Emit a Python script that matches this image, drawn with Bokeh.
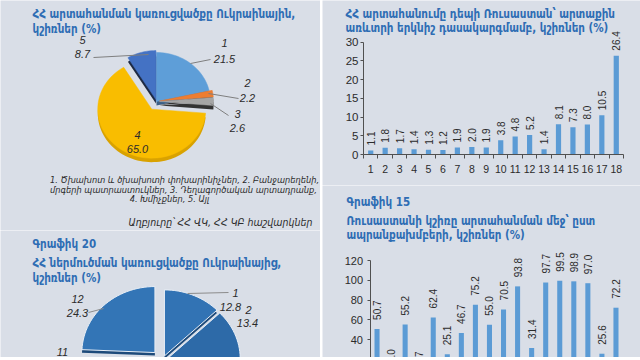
import numpy as np
from bokeh.plotting import figure
from bokeh.models import Range1d, FixedTicker, ColumnDataSource
from bokeh.layouts import row, column
from bokeh.core.properties import value
from bokeh.embed import file_html
from bokeh.resources import INLINE

# ---------------- data ----------------
exp_ua_ids = ["1", "2", "3", "4", "5"]
exp_ua_shares = [21.5, 2.2, 2.6, 65.0, 8.7]
exp_ua_title = ["ՀՀ արտահանման կառուցվածքը Ուկրաինային,", "կշիռներ (%)"]
exp_ua_legend = ["1. Ծխախոտ և ծխախոտի փոխարինիչներ, 2. Բանջարեղենի,",
                 "մրգերի պատրաստուկներ, 3. Դեղագործական արտադրանք,",
                 "4. Խմիչքներ, 5. Այլ"]
source_note = "Աղբյուրը՝ ՀՀ ՎԿ, ՀՀ ԿԲ հաշվարկներ"

imp_ua_label = "Գրաֆիկ 20"
imp_ua_title = ["ՀՀ ներմուծման կառուցվածքը Ուկրաինայից,", "կշիռներ (%)"]
imp_ua_ids = ["1", "2", "3", "4", "5", "6", "7", "8", "9", "10", "11", "12"]
imp_ua_shares = [12.8, 13.4, 9.6, 7.1, 6.2, 5.3, 4.8, 4.4, 4.1, 3.9, 4.1, 24.3]

ru_cats = ["1", "2", "3", "4", "5", "6", "7", "8", "9", "10", "11", "12",
           "13", "14", "15", "16", "17", "18"]
ru_export_title = ["ՀՀ արտահանումը դեպի Ռուսաստան՝ արտաքին",
                   "առևտրի երկնիշ դասակարգմամբ, կշիռներ (%)"]
ru_export_shares = [1.1, 1.8, 1.7, 1.4, 1.3, 1.2, 1.9, 2.0, 1.9, 3.8, 4.8, 5.2,
                    1.4, 8.1, 7.3, 8.0, 10.5, 26.4]
ru_export_yticks = [0, 5, 10, 15, 20, 25, 30]

ru_weight_label = "Գրաֆիկ 15"
ru_weight_title = ["Ռուսաստանի կշիռը արտահանման մեջ՝ ըստ",
                   "ապրանքախմբերի, կշիռներ (%)"]
ru_weight_shares = [50.7, 7.0, 55.2, 4.7, 62.4, 25.1, 46.7, 75.2, 55.0, 70.5,
                    93.8, 31.4, 97.7, 99.5, 98.9, 97.0, 25.6, 72.2]
ru_weight_yticks = [0, 20, 40, 60, 80, 100, 120]

# ---------------- styles ----------------
BG = "#d9dee7"
BLUE_T = "#2e6db4"
BAR = "#5b9bd5"
TXT = "#2b2b2b"
ARM = "DejaVu Sans Condensed, DejaVu Sans"
NUM = "Liberation Sans"
AX = "#505050"
TITLE_SIZE = "11.5px"


def base_fig(w, h, xr, yr):
    p = figure(width=w, height=h, x_range=xr, y_range=yr, output_backend="svg",
               toolbar_location=None, background_fill_color=BG,
               border_fill_color=BG, outline_line_color=None, min_border=0)
    p.xgrid.visible = False
    p.ygrid.visible = False
    return p


def pie_polys(shares, cx, cy, rx, ry, explode, dy=0.0):
    tot = float(sum(shares))
    xs, ys = [], []
    start = 0.0
    for s, e in zip(shares, explode):
        a0 = start / tot * 2 * np.pi
        a1 = (start + s) / tot * 2 * np.pi
        mid = 0.5 * (a0 + a1)
        ox = cx + e * np.sin(mid)
        oy = cy - e * np.cos(mid) + dy
        t = np.linspace(a0, a1, max(4, int(120 * (a1 - a0) / (2 * np.pi)) + 3))
        xs.append([ox] + list(ox + rx * np.sin(t)))
        ys.append([oy] + list(oy - ry * np.cos(t)))
        start += s
    return xs, ys


def put_text(p, x, y, txt, size, color=TXT, style="normal", align="left", font=ARM):
    p.text(x=[x], y=[y], text=[txt], text_font=value(font), text_font_size=size,
           text_color=color, text_font_style=style, text_align=align,
           text_baseline="middle")


def style_axis(ax, size):
    ax.axis_line_color = AX
    ax.major_tick_line_color = AX
    ax.minor_tick_line_color = AX
    ax.major_label_text_font = NUM
    ax.major_label_text_color = TXT
    ax.major_label_text_font_size = size
    ax.major_tick_in = 0
    ax.minor_tick_in = 0


# ---------------- panel A: export structure to Ukraine (pie) ----------------
pA = base_fig(320, 230, Range1d(0, 320), Range1d(230, 0))
pA.xaxis.visible = False
pA.yaxis.visible = False
put_text(pA, 32, 13.5, exp_ua_title[0], TITLE_SIZE, BLUE_T, "bold")
put_text(pA, 32, 28, exp_ua_title[1], TITLE_SIZE, BLUE_T, "bold")

cols_A = ["#5e9ed8", "#ed7d31", "#a5a5a5", "#f9bd00", "#4472c4"]
side_A = ["#3a5f86", "#333333", "#333333", "#d9a200", "#1e2a44"]
expl_A = [0, 3, 3, 9, 2]
sx, sy = pie_polys(exp_ua_shares, 156, 101, 54, 49, expl_A, dy=4)
pA.patches(xs=sx, ys=sy, fill_color=side_A, line_color=None)
px_, py_ = pie_polys(exp_ua_shares, 156, 101, 54, 49, expl_A)
pA.patches(xs=px_, ys=py_, fill_color=cols_A, line_color=cols_A, line_width=0.5)

pA.segment(x0=[190, 208, 210, 93], y0=[63, 93, 103, 57],
           x1=[210, 238, 228, 148], y1=[59, 98, 115, 54],
           line_color="#7f7f7f", line_width=1)
lab_x = [224, 247, 237, 137, 82]
lab_y_id = [42, 82, 113, 134, 39]
lab_y_val = [58, 97, 127, 148, 53]
for i in range(5):
    put_text(pA, lab_x[i], lab_y_id[i], exp_ua_ids[i], "11px", TXT, "italic", "center", NUM)
    put_text(pA, lab_x[i], lab_y_val[i], f"{exp_ua_shares[i]:.1f}", "11px", TXT, "italic", "center", NUM)

for txt, x, y in zip(exp_ua_legend, [184, 183, 169], [178.5, 188.5, 198]):
    put_text(pA, x, y, txt, "9.2px", TXT, "italic", "center")
put_text(pA, 312, 221.5, source_note, "10.5px", TXT, "italic", "right")

# ---------------- panel B: import structure from Ukraine (pie) ----------------
pB = base_fig(320, 127, Range1d(0, 320), Range1d(357, 230))
pB.xaxis.visible = False
pB.yaxis.visible = False
put_text(pB, 32, 243, imp_ua_label, TITLE_SIZE, BLUE_T, "bold")
put_text(pB, 32, 262, imp_ua_title[0], TITLE_SIZE, BLUE_T, "bold")
put_text(pB, 32, 277, imp_ua_title[1], TITLE_SIZE, BLUE_T, "bold")

cols_B = ["#3273b4", "#2d6aa8", "#2b66a3", "#2a63a0", "#2e6aa8", "#2b65a2",
          "#2d68a6", "#2a64a1", "#2c67a5", "#2a63a0", "#285d96", "#3375b6"]
expl_B = [5, 5, 5, 5, 5, 5, 5, 5, 5, 5, 5, 11]
sx, sy = pie_polys(imp_ua_shares, 162, 360, 73, 66, expl_B, dy=3)
pB.patches(xs=sx, ys=sy, fill_color="#1d4a7a", line_color=None)
px_, py_ = pie_polys(imp_ua_shares, 162, 360, 73, 66, expl_B)
pB.patches(xs=px_, ys=py_, fill_color=cols_B, line_color="#e8eef6", line_width=1)
pB.segment(x0=[187, 88], y0=[293, 312], x1=[228, 103], y1=[292, 308],
           line_color="#8c8c8c", line_width=1)
b_idx = [0, 1, 11]
b_x = [235, 248, 77]
b_yid = [292, 309, 298]
b_xv = [230, 247, 77]
b_yv = [306, 322, 312]
for k, i in enumerate(b_idx):
    put_text(pB, b_x[k], b_yid[k], imp_ua_ids[i], "11px", TXT, "italic", "center", NUM)
    put_text(pB, b_xv[k], b_yv[k], f"{imp_ua_shares[i]:.1f}", "11px", TXT, "italic", "center", NUM)
# slice 11 id, only its label peeks in at the bottom edge
put_text(pB, 62, 351, imp_ua_ids[10], "11px", TXT, "italic", "center", NUM)

# ---------------- panel C: export to Russia by HS chapters ----------------
C_PXU = 260 / 18.0
C_PPU = 112.3 / 30.0


def cx_(rx):
    return 0.5 + (rx - 363) / C_PXU


def cy_(ry):
    return (154 - ry) / C_PPU


pC = base_fig(318, 185, Range1d(cx_(322), cx_(640)), Range1d(cy_(185), cy_(0)))
srcC = ColumnDataSource(dict(x=np.arange(1, 19), top=ru_export_shares,
                             lab=[f"{v:.1f}" for v in ru_export_shares]))
pC.vbar(x="x", top="top", width=0.36, source=srcC, fill_color=BAR, line_color=None)
pC.text(x="x", y="top", text="lab", source=srcC, angle=np.pi / 2, y_offset=-5,
        text_align="left", text_baseline="middle", text_font=value(NUM),
        text_font_size="10px", text_color=TXT)

yax = pC.yaxis[0]
yax.fixed_location = 0.5
yax.ticker = FixedTicker(ticks=ru_export_yticks)
yax.bounds = (0, 30)
style_axis(yax, "11.5px")
yax.major_tick_out = 3
yax.minor_tick_out = 0
yax.major_label_standoff = 2

xax = pC.xaxis[0]
xax.fixed_location = 0
xax.bounds = (0.5, 18.5)
xax.ticker = FixedTicker(ticks=list(range(1, 19)),
                         minor_ticks=[0.5 + i for i in range(19)])
xax.major_label_overrides = {i + 1: c for i, c in enumerate(ru_cats)}
style_axis(xax, "10.5px")
xax.major_tick_out = 0
xax.minor_tick_out = 4
xax.major_label_standoff = 6

for txt, ry in zip(ru_export_title, [13.5, 27.5]):
    put_text(pC, cx_(345), cy_(ry), txt, TITLE_SIZE, BLUE_T, "bold")

# ---------------- panel D: Russia's share in export by product group ----------------
D_PXU = 253 / 18.0
D_PPU = 0.9875


def dx_(rx):
    return 0.5 + (rx - 369.5) / D_PXU


def dy_(ry):
    return 120 + (260 - ry) / D_PPU


pD = base_fig(318, 172, Range1d(dx_(322), dx_(640)), Range1d(dy_(357), dy_(185)))
pD.xaxis.visible = False
srcD = ColumnDataSource(dict(x=np.arange(1, 19), top=ru_weight_shares,
                             lab=[f"{v:.1f}" for v in ru_weight_shares]))
pD.vbar(x="x", top="top", width=0.36, bottom=0, source=srcD, fill_color=BAR, line_color=None)
pD.text(x="x", y="top", text="lab", source=srcD, angle=np.pi / 2, y_offset=-9,
        text_align="left", text_baseline="middle", text_font=value(NUM),
        text_font_size="10px", text_color=TXT)
yd = pD.yaxis[0]
yd.fixed_location = 0.5
yd.ticker = FixedTicker(ticks=ru_weight_yticks)
yd.bounds = (0, 120)
style_axis(yd, "11px")
yd.major_tick_out = 3
yd.minor_tick_out = 0
yd.major_label_standoff = 4

put_text(pD, dx_(346), dy_(201), ru_weight_label, TITLE_SIZE, BLUE_T, "bold")
for txt, ry in zip(ru_weight_title, [220, 234]):
    put_text(pD, dx_(346), dy_(ry), txt, TITLE_SIZE, BLUE_T, "bold")

layout = row(column(pA, pB, spacing=0), column(pC, pD, spacing=0), spacing=2)
open("out.html", "w").write(file_html(layout, INLINE))
